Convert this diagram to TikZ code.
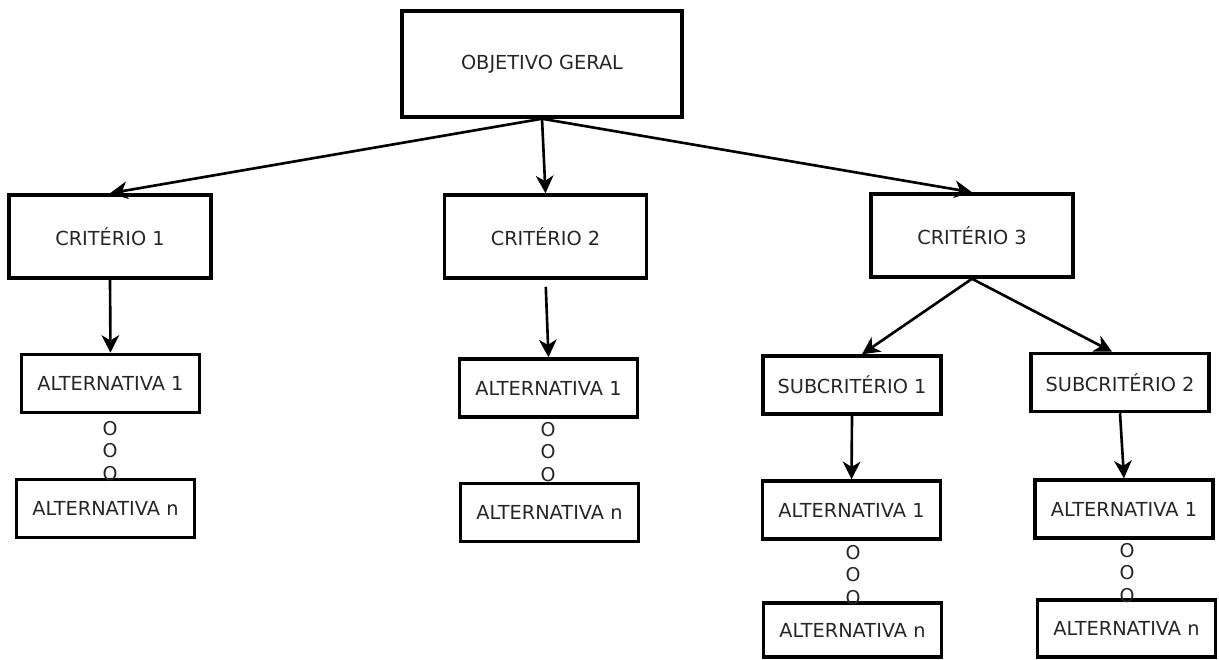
\documentclass[tikz,border=0pt]{standalone}
\usepackage{fontspec}
\setmainfont{DejaVu Sans}
\usetikzlibrary{arrows.meta, positioning}
\tikzset{
    goalbox/.style={
        draw,
        line width=2pt,
        minimum width=5.6cm,
        minimum height=2.12cm,
        align=center
    },
    critbox/.style={
        draw,
        line width=2pt,
        minimum width=4.04cm,
        minimum height=1.66cm,
        align=center
    },
    altbox/.style={
        draw,
        line width=2pt,
        minimum width=3.56cm,
        minimum height=1.16cm,
        align=center
    },
    ostack/.style={inner sep=0pt, align=center, font=\fontsize{10.8}{12.8}\selectfont},
    line/.style={-{Stealth[length=10pt, width=10pt, inset=3pt]}, line width=1.5pt},
    every node/.style={font=\fontsize{11}{13}\selectfont, text=black!85}
}
\begin{document}
\begin{tikzpicture}[x=0.02cm, y=-0.02cm]
\useasboundingbox (0,0) rectangle (1219,659);

\node[goalbox] (goal) at (542,64) {OBJETIVO GERAL};

\node[critbox] (c1) at (110,236.5) {CRITÉRIO 1};
\node[critbox] (c2) at (545.5,236.5) {CRITÉRIO 2};
\node[critbox] (c3) at (972,235.5) {CRITÉRIO 3};

\node[altbox] (s1) at (852,385) {SUBCRITÉRIO 1};
\node[altbox] (s2) at (1120,382.5) {SUBCRITÉRIO 2};

\node[altbox] (c1a1) at (110.5,383.5) {ALTERNATIVA 1};
\node[altbox] (c1an) at (105.5,508.5) {ALTERNATIVA n};
\node[altbox] (c2a1) at (548.5,388) {ALTERNATIVA 1};
\node[altbox] (c2an) at (549.5,512.5) {ALTERNATIVA n};
\node[altbox] (s1a1) at (851.5,510) {ALTERNATIVA 1};
\node[altbox, minimum height=1.08cm] (s1an) at (852.5,630) {ALTERNATIVA n};
\node[altbox] (s2a1) at (1124,509) {ALTERNATIVA 1};
\node[altbox, minimum height=1.14cm] (s2an) at (1126.5,628.5) {ALTERNATIVA n};

% O O O between first and last alternative
\node[ostack] (c1dots) at (110,451) {O\\O\\O};
\node[ostack] (c2dots) at (548,452) {O\\O\\O};
\node[ostack] (s1dots) at (853,575) {O\\O\\O};
\node[ostack] (s2dots) at (1127,573) {O\\O\\O};

\draw[line] (goal.south) -- (c1.north);
\draw[line] (goal.south) -- (c2.north);
\draw[line] (goal.south) -- (c3.north);

\draw[line] (c1.south) -- (c1a1.north);
\draw[line, shorten <=4pt] (c2.south) -- (c2a1.north);
\draw[line] (c3.south) -- ([xshift=0.2cm]s1.north);
\draw[line] (c3.south) -- ([xshift=-0.16cm]s2.north);

\draw[line] (s1.south) -- (s1a1.north);
\draw[line] (s2.south) -- (s2a1.north);
\end{tikzpicture}
\end{document}
